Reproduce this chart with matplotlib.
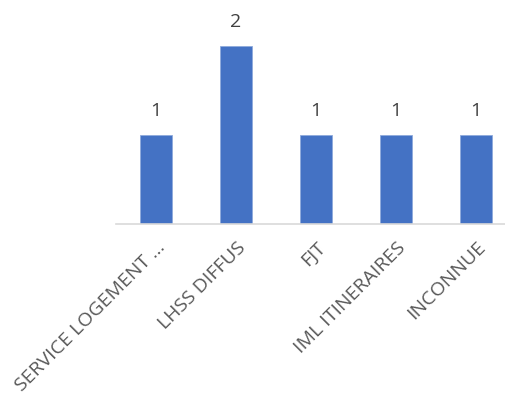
import matplotlib.pyplot as plt
import matplotlib.transforms as mtransforms
import numpy as np

categories = ["SERVICE LOGEMENT …", "LHSS DIFFUS", "FJT", "IML ITINERAIRES", "INCONNUE"]
values = [1, 2, 1, 1, 1]

plt.rcParams["font.family"] = ["Open Sans", "DejaVu Sans"]

fig = plt.figure(figsize=(5.05, 3.94), dpi=100)
# plot area runs past the right edge, as in the cropped original
ax = fig.add_axes([115.5 / 505, (394 - 224) / 394, 400 / 505, 222.5 / 394])

x = np.arange(len(categories))
bars = ax.bar(x, values, width=0.4, color="#4472C4", edgecolor="#8FAADC", linewidth=0.6)

for xi, v in zip(x, values):
    ax.text(xi, v + 0.17, str(v), ha="center", va="bottom", fontsize=14, color="#404040")

ax.set_xlim(-0.5, len(categories) - 0.5)
ax.set_ylim(0, 2.5)
ax.set_yticks([])
ax.set_xticks(x)
ax.set_xticklabels(categories, rotation=45, ha="right", va="center",
                   rotation_mode="anchor", fontsize=14, color="#595959")
ax.tick_params(axis="x", length=0, pad=15)
shift = mtransforms.ScaledTranslation(7 / 100, 0, fig.dpi_scale_trans)
for lbl in ax.get_xticklabels():
    lbl.set_transform(lbl.get_transform() + shift)
for side in ["top", "left", "right"]:
    ax.spines[side].set_visible(False)
ax.spines["bottom"].set_color("#D9D9D9")
ax.spines["bottom"].set_linewidth(1.2)

fig.savefig("out.png", dpi=100)
